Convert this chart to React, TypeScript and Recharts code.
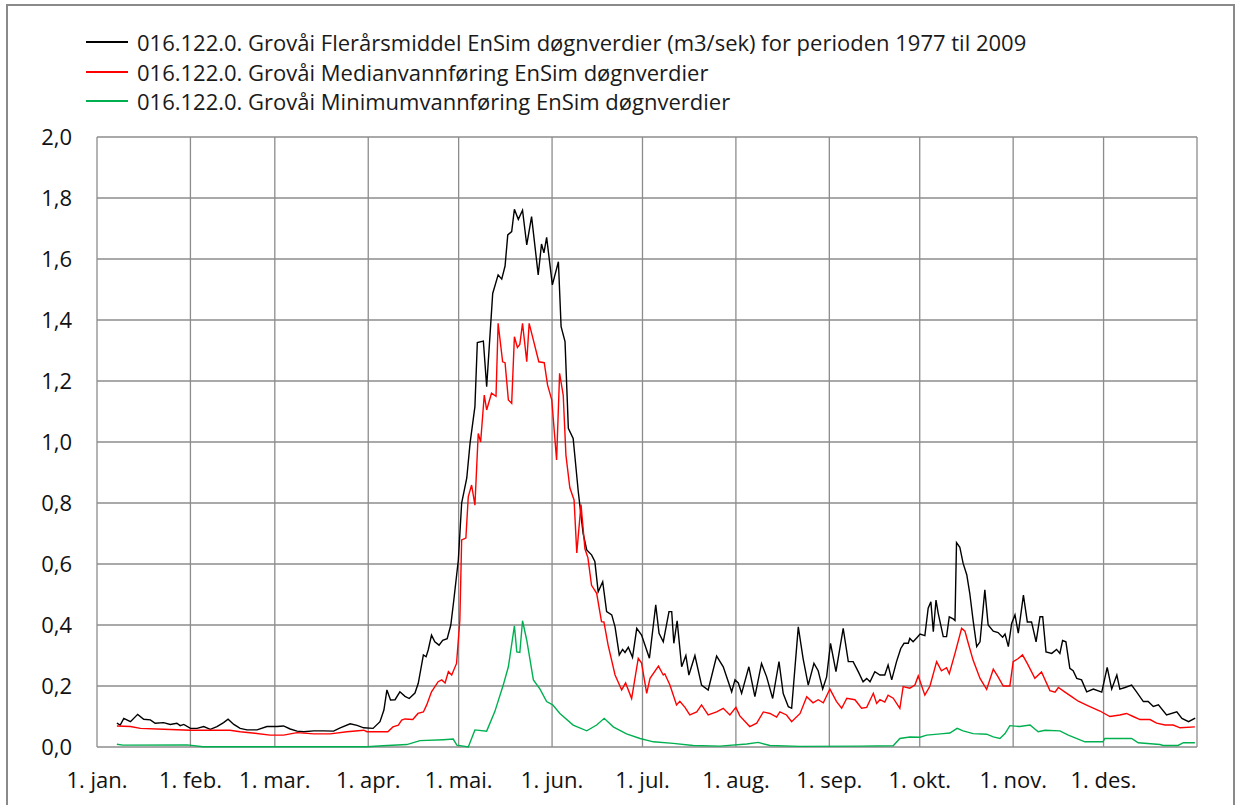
import React from 'react';
import { LineChart, Line, XAxis, YAxis, CartesianGrid } from 'recharts';

// x = day of year (0 = 1. jan.), y = m3/s
const meanPoints: [number, number][] = [
  [6.6,0.078],[7.7,0.072],[8.9,0.094],[11.1,0.083],[13.5,0.107],[15.5,0.091],[17.7,0.089],[19.3,0.078],[22.1,0.080],[24.3,0.074],
  [26.5,0.078],[27.6,0.070],[28.8,0.074],[31.0,0.061],[33.2,0.061],[35.4,0.067],[37.6,0.058],[39.8,0.067],[42.0,0.080],[43.5,0.091],
  [45.4,0.074],[47.5,0.061],[49.8,0.056],[53.1,0.056],[56.4,0.067],[59.7,0.067],[61.9,0.069],[64.1,0.059],[66.4,0.052],[68.6,0.050],
  [71.9,0.053],[75.2,0.053],[78.5,0.052],[80.7,0.063],[84.0,0.076],[86.3,0.071],[88.5,0.063],[91.6,0.061],[93.9,0.083],[95.2,0.121],
  [96.2,0.187],[97.4,0.154],[98.9,0.155],[100.5,0.181],[102.2,0.166],[103.6,0.159],[105.5,0.177],[106.6,0.209],[108.3,0.302],[109.2,0.296],
  [109.9,0.318],[111.0,0.367],[112.1,0.345],[113.5,0.334],[114.7,0.350],[116.2,0.355],[117.4,0.40],[118.4,0.482],[119.9,0.613],[121.0,0.80],
  [122.7,0.882],[123.8,0.997],[125.4,1.116],[126.2,1.326],[128.2,1.331],[129.3,1.181],[131.3,1.487],[133.1,1.548],[134.3,1.534],[135.4,1.577],
  [136.3,1.679],[137.6,1.69],[138.5,1.763],[139.8,1.73],[141.2,1.76],[142.6,1.646],[144.2,1.739],[146.4,1.548],[147.5,1.649],[148.3,1.62],
  [149.2,1.671],[151.1,1.515],[153.1,1.591],[154.0,1.378],[155.3,1.329],[156.4,1.045],[158.0,1.012],[159.7,0.837],[161.3,0.70],[162.5,0.646],
  [164.1,0.63],[165.2,0.608],[166.3,0.509],[167.8,0.542],[169.1,0.444],[170.8,0.433],[171.9,0.394],[173.3,0.302],[174.4,0.32],[175.2,0.31],
  [176.3,0.327],[177.7,0.294],[179.1,0.389],[180.7,0.367],[183.3,0.291],[185.4,0.466],[186.5,0.373],[187.9,0.345],[189.8,0.444],[190.7,0.444],
  [191.4,0.34],[192.5,0.414],[194.0,0.263],[195.4,0.30],[196.4,0.236],[198.4,0.30],[200.6,0.203],[202.8,0.187],[205.6,0.298],[207.8,0.263],
  [210.6,0.181],[211.7,0.22],[212.8,0.21],[213.9,0.176],[216.3,0.263],[218.3,0.165],[220.5,0.274],[222.2,0.23],[224.2,0.159],[226.3,0.28],
  [227.7,0.175],[229.4,0.132],[230.5,0.127],[232.7,0.394],[234.3,0.29],[236.0,0.203],[237.9,0.274],[239.3,0.25],[240.8,0.19],[242.1,0.23],
  [243.4,0.34],[245.2,0.247],[247.6,0.389],[249.3,0.28],[250.9,0.28],[252.6,0.247],[254.2,0.214],[255.4,0.225],[256.5,0.214],[258.1,0.247],
  [259.8,0.236],[261.4,0.236],[262.5,0.269],[263.7,0.22],[265.3,0.28],[266.7,0.323],[267.8,0.34],[269.2,0.34],[269.7,0.356],[270.8,0.345],
  [272.2,0.36],[273.1,0.37],[274.7,0.365],[275.8,0.455],[276.7,0.476],[277.5,0.378],[278.4,0.482],[279.1,0.44],[280.8,0.362],[281.9,0.362],
  [282.8,0.427],[284.1,0.42],[284.7,0.415],[285.2,0.67],[286.3,0.655],[287.4,0.602],[288.6,0.565],[289.6,0.504],[290.7,0.416],[291.9,0.329],
  [293.0,0.345],[294.6,0.515],[295.7,0.40],[297.4,0.38],[299.0,0.375],[300.5,0.36],[301.3,0.37],[302.4,0.329],[303.5,0.405],[304.6,0.433],
  [305.7,0.373],[307.4,0.498],[308.7,0.41],[310.1,0.41],[311.6,0.345],[312.9,0.427],[313.8,0.427],[314.9,0.312],[316.8,0.307],[318.4,0.32],
  [319.5,0.307],[320.4,0.349],[321.5,0.345],[322.8,0.258],[323.9,0.25],[325.1,0.225],[326.7,0.22],[328.4,0.181],[330.6,0.19],[333.4,0.18],
  [335.2,0.261],[336.7,0.19],[338.4,0.236],[339.4,0.19],[341.1,0.195],[343.3,0.203],[345.0,0.18],[347.2,0.149],[348.8,0.149],[350.5,0.133],
  [352.2,0.138],[354.9,0.105],[358.3,0.115],[360.0,0.094],[362.2,0.083],[364.4,0.095],
];

const medianPoints: [number, number][] = [
  [6.6,0.069],[11.1,0.067],[14.4,0.061],[22.1,0.058],[31.0,0.055],[44.1,0.055],[47.5,0.050],[52.4,0.045],[57.4,0.039],[61.9,0.039],
  [66.4,0.047],[71.9,0.043],[77.4,0.043],[82.9,0.050],[88.5,0.055],[89.6,0.050],[96.5,0.050],[98.2,0.066],[100.0,0.072],[101.1,0.088],
  [102.2,0.092],[104.8,0.090],[106.5,0.110],[108.3,0.115],[109.4,0.138],[111.0,0.181],[113.2,0.214],[114.4,0.22],[115.5,0.21],[116.6,0.247],
  [117.7,0.236],[119.3,0.274],[120.4,0.416],[121.0,0.679],[122.4,0.685],[123.2,0.821],[124.3,0.859],[125.4,0.793],[126.5,1.028],[127.3,1.0],
  [128.5,1.154],[129.3,1.105],[130.9,1.16],[132.4,1.15],[133.1,1.389],[134.6,1.263],[135.4,1.26],[136.5,1.138],[137.6,1.127],[138.5,1.345],
  [139.5,1.31],[140.3,1.32],[141.2,1.389],[142.6,1.263],[143.4,1.389],[144.8,1.334],[146.6,1.263],[148.4,1.26],[149.5,1.187],[150.9,1.138],
  [152.5,0.941],[153.5,1.225],[154.7,1.154],[155.6,0.957],[156.9,0.85],[158.3,0.81],[159.2,0.636],[160.6,0.795],[161.9,0.65],[162.9,0.62],
  [164.1,0.53],[165.8,0.504],[167.4,0.411],[168.2,0.41],[169.6,0.334],[171.9,0.236],[174.1,0.187],[175.4,0.21],[177.4,0.159],[179.6,0.291],
  [180.7,0.275],[182.4,0.176],[183.5,0.225],[186.3,0.265],[187.9,0.236],[188.4,0.24],[190.1,0.203],[192.3,0.138],[193.4,0.15],[195.1,0.13],
  [196.7,0.105],[199.0,0.115],[200.6,0.138],[202.8,0.105],[205.6,0.115],[207.8,0.127],[210.0,0.105],[212.0,0.13],[213.3,0.102],[216.6,0.067],
  [218.9,0.078],[221.1,0.115],[223.3,0.11],[225.5,0.098],[226.6,0.115],[228.8,0.105],[230.5,0.083],[233.3,0.11],[235.5,0.165],[237.6,0.145],
  [239.3,0.155],[241.0,0.145],[243.2,0.19],[245.4,0.149],[247.1,0.127],[248.8,0.16],[251.5,0.155],[253.7,0.127],[255.4,0.13],[257.6,0.176],
  [258.7,0.143],[259.8,0.155],[261.4,0.147],[262.5,0.17],[264.2,0.16],[266.4,0.127],[267.5,0.198],[269.7,0.193],[271.4,0.203],[272.5,0.233],
  [274.7,0.17],[276.4,0.2],[278.6,0.28],[280.2,0.25],[281.9,0.26],[282.8,0.24],[284.7,0.307],[286.9,0.389],[288.0,0.38],[289.1,0.34],
  [290.7,0.285],[293.0,0.225],[295.2,0.189],[297.4,0.255],[299.0,0.23],[300.7,0.2],[302.9,0.2],[304.0,0.28],[305.7,0.29],[307.1,0.302],
  [308.9,0.27],[311.2,0.225],[313.4,0.246],[316.2,0.185],[317.9,0.18],[319.0,0.195],[321.2,0.18],[323.4,0.165],[325.6,0.15],[328.9,0.135],
  [332.8,0.118],[336.1,0.1],[339.4,0.105],[341.6,0.11],[343.8,0.1],[346.1,0.09],[349.4,0.09],[351.6,0.078],[354.4,0.072],[357.1,0.072],
  [359.4,0.063],[364.3,0.066],
];

const minPoints: [number, number][] = [
  [6.6,0.009],[8.6,0.006],[29.9,0.007],[35.2,0.001],[89.6,0.001],[94.9,0.004],[102.8,0.008],[107.2,0.021],[114.9,0.024],[118.2,0.026],
  [119.4,0.006],[123.2,0.0],[125.4,0.056],[129.3,0.052],[132.0,0.116],[134.8,0.203],[136.5,0.263],[138.5,0.397],[139.3,0.312],[140.3,0.31],
  [141.2,0.414],[142.6,0.35],[144.8,0.22],[147.0,0.19],[149.2,0.149],[151.2,0.138],[153.6,0.11],[158.0,0.072],[162.5,0.053],[165.8,0.072],
  [168.3,0.094],[171.3,0.066],[175.7,0.043],[180.2,0.028],[184.6,0.017],[191.2,0.012],[197.8,0.005],[206.7,0.003],[215.6,0.01],[219.4,0.015],
  [223.3,0.005],[233.2,0.002],[253.2,0.003],[264.2,0.004],[266.4,0.028],[269.7,0.033],[273.1,0.032],[275.3,0.039],[280.8,0.044],[283.0,0.046],
  [285.4,0.061],[287.4,0.053],[290.7,0.044],[295.2,0.042],[297.4,0.033],[299.6,0.028],[301.3,0.044],[302.9,0.07],[306.2,0.067],[309.6,0.072],
  [312.3,0.05],[314.6,0.055],[319.5,0.053],[322.3,0.039],[327.8,0.017],[333.8,0.017],[334.4,0.028],[343.3,0.028],[345.5,0.014],[352.7,0.008],
  [353.8,0.005],[358.7,0.005],[360.5,0.014],[364.3,0.014],
];

const monthTicks = [0, 31, 59, 90, 120, 151, 181, 212, 243, 273, 304, 334, 365];
const monthLabels = ['1. jan.', '1. feb.', '1. mar.', '1. apr.', '1. mai.', '1. jun.', '1. jul.', '1. aug.', '1. sep.', '1. okt.', '1. nov.', '1. des.', ''];
const yTicks = [0, 0.2, 0.4, 0.6, 0.8, 1.0, 1.2, 1.4, 1.6, 1.8, 2.0];

const seriesNames = [
  '016.122.0. Grovåi Flerårsmiddel EnSim døgnverdier (m3/sek) for perioden 1977 til 2009',
  '016.122.0. Grovåi Medianvannføring EnSim døgnverdier',
  '016.122.0. Grovåi Minimumvannføring EnSim døgnverdier',
];
const seriesColors = ['#000000', '#ff0000', '#00b050'];

const toRows = (pts: [number, number][]) => pts.map(([d, v]) => ({ d, v }));
const meanData = toRows(meanPoints);
const medianData = toRows(medianPoints);
const minData = toRows(minPoints);

const FONT = '"Open Sans", "DejaVu Sans", sans-serif';

const XTick = (props: any) => {
  const { x, y, payload } = props;
  const idx = monthTicks.indexOf(payload.value);
  return (
    <text x={x} y={y} dy={16} textAnchor="middle" fontFamily={FONT} fontSize={22} fill="#111">
      {idx >= 0 ? monthLabels[idx] : ''}
    </text>
  );
};

export default function App() {
  return (
    <div style={{ position: 'absolute', left: 0, top: 0, width: 1237, height: 805, overflow: 'hidden', background: '#fff' }}>
      <div
        style={{
          position: 'absolute', left: 6, top: 4, width: 1225, height: 900,
          border: '2px solid #8a8a8a', boxSizing: 'content-box',
        }}
      />
      <div style={{ position: 'absolute', left: 0, top: 0 }}>
        <LineChart width={1237} height={805} margin={{ top: 137, right: 40, bottom: 18, left: 0 }}>
          <CartesianGrid stroke="#8c8c8c" strokeWidth={1.3} />
          <XAxis
            dataKey="d"
            type="number"
            domain={[0, 365]}
            ticks={monthTicks}
            interval={0}
            axisLine={false}
            tickLine={false}
            tickSize={0}
            tickMargin={25}
            height={40}
            tick={<XTick />}
            allowDuplicatedCategory={false}
          />
          <YAxis
            type="number"
            domain={[0, 2]}
            ticks={yTicks}
            interval={0}
            axisLine={false}
            tickLine={false}
            tickSize={0}
            tickMargin={25}
            width={97}
            tick={{ fontFamily: FONT, fontSize: 22, fill: '#111' }}
            tickFormatter={(v: number) => v.toFixed(1).replace('.', ',')}
          />
          <Line data={meanData} dataKey="v" type="linear" stroke={seriesColors[0]} strokeWidth={1.4} dot={false} isAnimationActive={false} />
          <Line data={medianData} dataKey="v" type="linear" stroke={seriesColors[1]} strokeWidth={1.4} dot={false} isAnimationActive={false} />
          <Line data={minData} dataKey="v" type="linear" stroke={seriesColors[2]} strokeWidth={1.4} dot={false} isAnimationActive={false} />
        </LineChart>
      </div>
      {seriesNames.map((name, i) => (
        <div key={i} style={{ position: 'absolute', left: 86, top: 42 + i * 29.5 - 15, height: 30, display: 'flex', alignItems: 'center' }}>
          <div style={{ width: 42, height: 2, background: seriesColors[i], flex: 'none' }} />
          <span style={{ marginLeft: 9, fontFamily: FONT, fontSize: 22, lineHeight: '30px', color: '#1a1a1a', whiteSpace: 'nowrap' }}>{name}</span>
        </div>
      ))}
    </div>
  );
}
